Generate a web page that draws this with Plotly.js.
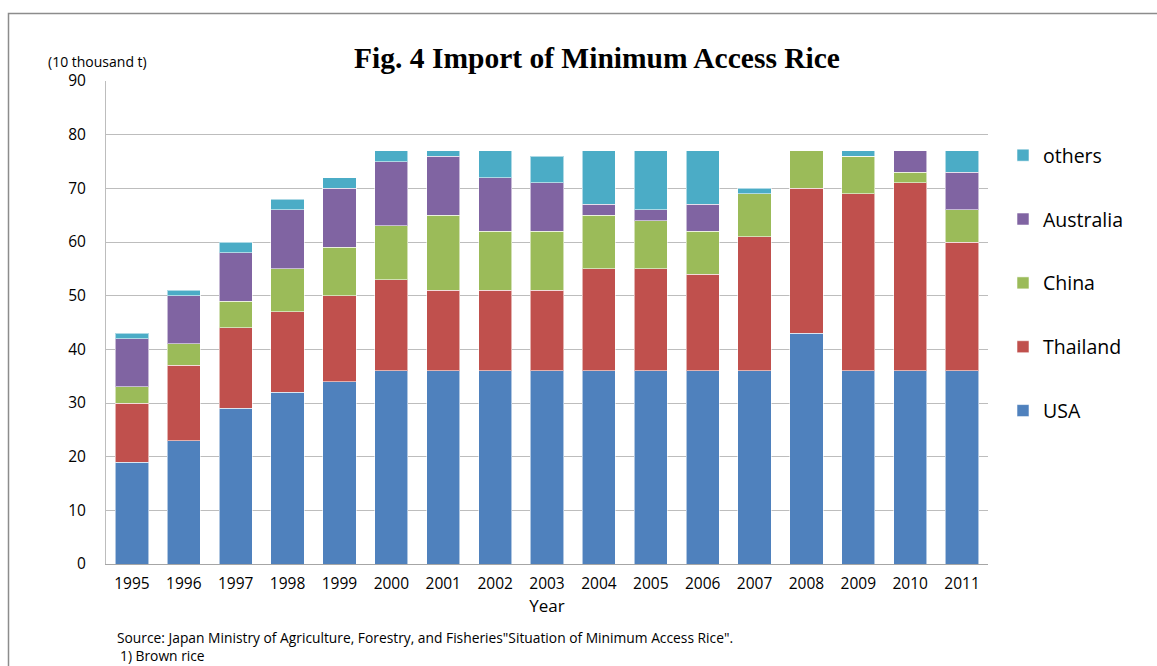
<!DOCTYPE html>
<html>
<head>
<meta charset="utf-8">
<script src="https://cdn.plot.ly/plotly-3.0.1.min.js"></script>
<style>
html,body{margin:0;padding:0;background:#fff;}
#chart{width:1157px;height:666px;}
</style>
</head>
<body>
<div id="chart"></div>
<script>
const years = ['1995','1996','1997','1998','1999','2000','2001','2002','2003','2004','2005','2006','2007','2008','2009','2010','2011'];
const usa       = [19,23,29,32,34,36,36,36,36,36,36,36,36,43,36,36,36];
const thailand  = [11,14,15,15,16,17,15,15,15,19,19,18,25,27,33,35,24];
const china     = [3,4,5,8,9,10,14,11,11,10,9,8,8,7,7,2,6];
const australia = [9,9,9,11,11,12,11,10,9,2,2,5,0,0,0,4,7];
const others    = [1,1,2,2,2,2,1,5,5,10,11,10,1,0,1,0,4];

const seriesNames = ['USA','Thailand','China','Australia','others'];
const seriesData = [usa, thailand, china, australia, others];
const seriesColors = ['#4F81BD','#C0504D','#9BBB59','#8064A2','#4BACC6'];

const baseFont = '"Open Sans", Lato, sans-serif';

const traces = seriesNames.map((n,i)=>({
  type:'bar',
  name:n,
  x:years,
  y:seriesData[i],
  legendgroup:n,
  legendrank:seriesNames.length-i,
  marker:{color:seriesColors[i], line:{color:'rgba(255,255,255,0.55)', width:1}},
  hoverinfo:'name+y'
}));

const L=106, R=988, T=81, B=564;
const W=R-L, H=B-T;
const px = x => (x-L)/W;
const py = y => 1-(y-T)/H;

const layout = {
  width:1157, height:666,
  margin:{l:L, r:1157-R, t:T, b:666-B, pad:0},
  paper_bgcolor:'#fff', plot_bgcolor:'#fff',
  barmode:'stack',
  bargap:0.36,
  showlegend:true,
  title:{
    text:'<b>Fig. 4 Import of Minimum Access Rice</b>',
    font:{family:'"Liberation Serif", "DejaVu Serif", serif', size:29.5, color:'#000'},
    xref:'paper', x:px(597), xanchor:'center',
    yref:'container', y:1-58/666, yanchor:'middle'
  },
  xaxis:{
    type:'category',
    showgrid:false,
    showline:true, linecolor:'#a6a6a6', linewidth:1,
    ticks:'', tickfont:{family:baseFont, size:15.5, color:'#000'},
    ticklabelstandoff:5,
    title:{text:'Year', font:{family:baseFont, size:17, color:'#000'}, standoff:2},
    fixedrange:true
  },
  yaxis:{
    range:[0,90], dtick:10, tick0:0,
    showgrid:true, gridcolor:'#bdbdbd', gridwidth:1,
    showline:true, linecolor:'#bdbdbd', linewidth:1,
    zeroline:false,
    ticks:'', tickfont:{family:baseFont, size:15.5, color:'#000'},
    ticklabelstandoff:16,
    fixedrange:true
  },
  legend:{
    x:px(1003), xanchor:'left',
    y:py(136), yanchor:'top',
    traceorder:'grouped',
    tracegroupgap:35.5,
    font:{family:baseFont, size:19.5, color:'#000'},
    bgcolor:'rgba(0,0,0,0)'
  },
  shapes:[
    {type:'rect', xref:'paper', yref:'paper', x0:px(8.5), x1:px(1175), y0:py(700), y1:py(13.5),
     line:{color:'#8c8c8c', width:1.5}, fillcolor:'rgba(0,0,0,0)', layer:'below'},
    {type:'rect', xref:'paper', yref:'paper', x0:px(334), x1:px(992), y0:py(84), y1:py(77),
     line:{width:0}, fillcolor:'#fff', layer:'above'}
  ],
  annotations:[
    {text:'(10 thousand t)', xref:'paper', yref:'paper', x:px(46), y:py(62), xanchor:'left', yanchor:'middle',
     showarrow:false, font:{family:baseFont, size:14, color:'#000'}},
    {text:'Source: Japan Ministry of Agriculture, Forestry, and Fisheries"Situation of Minimum Access Rice".',
     xref:'paper', yref:'paper', x:px(115), y:py(637), xanchor:'left', yanchor:'middle',
     showarrow:false, font:{family:baseFont, size:13.8, color:'#000'}},
    {text:'1) Brown rice', xref:'paper', yref:'paper', x:px(118), y:py(655), xanchor:'left', yanchor:'middle',
     showarrow:false, font:{family:baseFont, size:13.8, color:'#000'}}
  ]
};

Plotly.newPlot('chart', traces, layout, {displayModeBar:false, staticPlot:true});
</script>
</body>
</html>
